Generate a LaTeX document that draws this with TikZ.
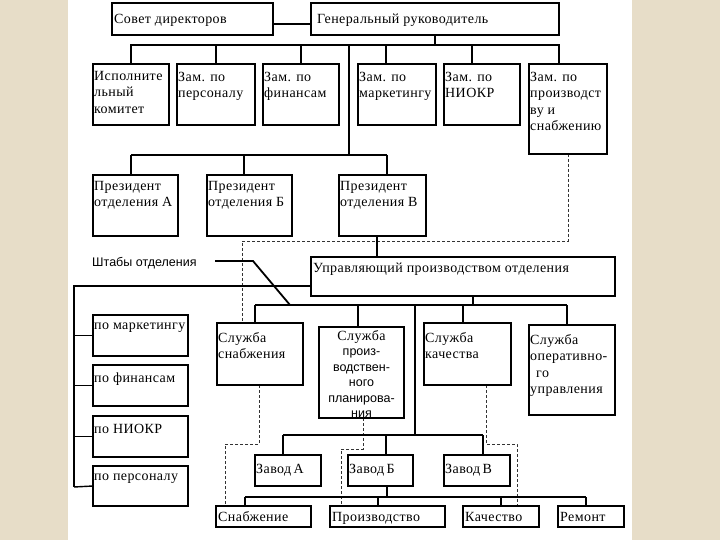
\documentclass[tikz,border=0pt]{standalone}
\usepackage{fontspec}
\setmainfont{Liberation Serif}[LetterSpace=3]
\setsansfont{Liberation Sans}
\usetikzlibrary{calc}
\definecolor{beige}{RGB}{231,221,200}
\tikzset{
  bx/.style={draw, line width=1.6pt, fill=white, anchor=north west, inner sep=0pt, outer sep=0pt},
  tl/.style={anchor=north west, inner sep=0pt, align=left, font=\fontsize{14}{16.5}\selectfont},
  bl/.style={anchor=base west, inner sep=0pt, font=\fontsize{14}{16.5}\selectfont},
  conn/.style={line width=1.4pt},
  dsh/.style={line width=1pt, draw=black!80, dash pattern=on 3pt off 2pt},
}
\newcommand\obox[5]{\node[bx, minimum width={(#4)-(#2)}, minimum height={(#5)-(#3)}] (#1) at (#2,#3) {};}
\begin{document}
\begin{tikzpicture}[x=1pt,y=-1pt]
\useasboundingbox (0,0) rectangle (720,540);
\fill[beige] (0,0) rectangle (720,540);
\fill[white] (68,0) rectangle (632,540);

% bus coordinates
\coordinate (b1l) at (131,45);
\coordinate (b1r) at (559,45);
\coordinate (j1) at (349,45);
\coordinate (j2) at (349,155);
\coordinate (b2l) at (131,155);
\coordinate (b2r) at (387,155);
\coordinate (st1) at (74,286);
\coordinate (st2) at (74,487);
\coordinate (b3l) at (255,305);
\coordinate (b3r) at (567,305);
\coordinate (j3) at (415,305);
\coordinate (j4) at (415,435);
\coordinate (b4l) at (283,435);
\coordinate (b4r) at (483,435);
\coordinate (b5l) at (245,497);
\coordinate (b5r) at (586,497);
\coordinate (d1a) at (568,241);
\coordinate (d1b) at (242,241);
\coordinate (d2a) at (259,444);
\coordinate (d2b) at (225,444);
\coordinate (d3a) at (363,449);
\coordinate (d3b) at (341,449);
\coordinate (d4a) at (486,444);
\coordinate (d4b) at (517,444);
\coordinate (ld1) at (215,261);
\coordinate (ld2) at (253,261);
\coordinate (ld3) at (290,305);

% boxes
\obox{sd}{112}{3}{273}{35}
\obox{gr}{311}{3}{559}{35}
\obox{ik}{93}{64}{169}{125}
\obox{zp}{177}{64}{255}{125}
\obox{zf}{263}{64}{339}{125}
\obox{zm}{358}{64}{436}{125}
\obox{zn}{444}{64}{520}{125}
\obox{zs}{529}{64}{607}{154}
\obox{pa}{93}{175}{178}{236}
\obox{pb}{207}{175}{292}{236}
\obox{pv}{339}{175}{426}{236}
\obox{up}{311}{257}{615}{296}
\obox{ss}{217}{323}{303}{385}
\obox{spp}{319}{327}{404}{418}
\obox{sk}{424}{323}{511}{385}
\obox{so}{529}{325}{615}{415}
\obox{lm}{93}{315}{188}{356}
\obox{lf}{93}{365}{188}{406}
\obox{ln}{93}{416}{188}{457}
\obox{lp}{93}{466}{188}{506}
\obox{wa}{255}{455}{321}{486}
\obox{wb}{348}{455}{413}{486}
\obox{wv}{444}{455}{510}{486}
\obox{bs}{216}{506}{311}{527}
\obox{bp}{330}{506}{445}{527}
\obox{bk}{463}{506}{539}{527}
\obox{br}{558}{506}{624}{527}

% dashed functional links
\draw[dsh] (568,0 |- zs.south) -- (d1a) -- (d1b) -- (242,0 |- ss.north);
\draw[dsh] (259,0 |- ss.south) -- (d2a) -- (d2b) -- (225,0 |- bs.north);
\draw[dsh] (363,0 |- spp.south) -- (d3a) -- (d3b) -- (341,0 |- bp.north);
\draw[dsh] (486,0 |- sk.south) -- (d4a) -- (d4b) -- (517,0 |- bk.north);

% solid connectors
\draw[conn] (sd.east |- 0,24) -- (gr.west |- 0,24);
\draw[conn] (gr.south) -- (gr.south |- b1l);
\draw[conn] (ik.north) -- (b1l) -- (b1r) -- (b1r |- zs.north);
\draw[conn] (zp.north) -- (zp.north |- b1l);
\draw[conn] (zf.north) -- (zf.north |- b1l);
\draw[conn] (386,45) -- (386,0 |- zm.north);
\draw[conn] (472,45) -- (472,0 |- zn.north);
\draw[conn] (j1) -- (j2);
\draw[conn] (b2l) -- (b2r);
\draw[conn] (b2l) -- (131,0 |- pa.north);
\draw[conn] (244,155) -- (244,0 |- pb.north);
\draw[conn] (b2r) -- (387,0 |- pv.north);
\draw[conn] (377,0 |- pv.south) -- (377,0 |- up.north);
\draw[conn] (up.west |- st1) -- (st1) -- (st2);
\draw[conn] (74,0 |- lm.west) -- (lm.west);
\draw[conn] (74,0 |- lf.west) -- (lf.west);
\draw[conn] (74,0 |- ln.west) -- (ln.west);
\draw[conn] (st2) -- (lp.west);
\draw[conn] (473,0 |- up.south) -- (473,305);
\draw[conn] (b3l) -- (b3r);
\draw[conn] (b3l) -- (255,0 |- ss.north);
\draw[conn] (358,305) -- (358,0 |- spp.north);
\draw[conn] (463,305) -- (463,0 |- sk.north);
\draw[conn] (b3r) -- (567,0 |- so.north);
\draw[conn] (j3) -- (j4);
\draw[conn] (b4l) -- (b4r);
\draw[conn] (b4l) -- (283,0 |- wa.north);
\draw[conn] (386,435) -- (386,0 |- wb.north);
\draw[conn] (b4r) -- (483,0 |- wv.north);
\draw[conn] (387,0 |- wb.south) -- (387,497);
\draw[conn] (b5l) -- (b5r);
\draw[conn] (b5l) -- (245,0 |- bs.north);
\draw[conn] (378,497) -- (378,0 |- bp.north);
\draw[conn] (501,497) -- (501,0 |- bk.north);
\draw[conn] (b5r) -- (586,0 |- br.north);
\draw[line width=1.8pt] (ld1) -- (ld2) -- (ld3);

% redraw boxes on top of lines
\foreach \n in {sd,gr,ik,zp,zf,zm,zn,zs,pa,pb,pv,up,ss,spp,sk,so,lm,lf,ln,lp,wa,wb,wv,bs,bp,bk,br}
  \draw[line width=1.6pt, fill=white] (\n.north west) rectangle (\n.south east);

% texts
\node[bl] (sd-t) at ([shift={(2,21)}]sd.north west) {Совет директоров};
\node[bl] (gr-t) at ([shift={(6,21)}]gr.north west) {Генеральный руководитель};
\node[tl] (ik-t) at ([shift={(1,7)}]ik.north west) {Исполните\\льный\\комитет};
\node[tl] (zp-t) at ([shift={(1,8)}]zp.north west) {Зам. по\\персоналу};
\node[tl] (zf-t) at ([shift={(1,8)}]zf.north west) {Зам. по\\финансам};
\node[tl] (zm-t) at ([shift={(1,8)}]zm.north west) {Зам. по\\маркетингу};
\node[tl] (zn-t) at ([shift={(1,8)}]zn.north west) {Зам. по\\НИОКР};
\node[tl] (zs-t) at ([shift={(1,8)}]zs.north west) {Зам. по\\производст\\ву и\\снабжению};
\node[tl] (pa-t) at ([shift={(1,6)}]pa.north west) {Президент\\отделения А};
\node[tl] (pb-t) at ([shift={(1,6)}]pb.north west) {Президент\\отделения Б};
\node[tl] (pv-t) at ([shift={(1,6)}]pv.north west) {Президент\\отделения В};
\node[tl] (up-t) at ([shift={(2,6)}]up.north west) {Управляющий производством отделения};
\node[tl] (ss-t) at ([shift={(1,9)}]ss.north west) {Служба\\снабжения};
\node[anchor=north, inner sep=0pt, align=center, font=\fontsize{12.5}{15.5}\selectfont] (spp-t) at ([shift={(0,3)}]spp.north) {\rmfamily\fontsize{14}{15.5}\selectfont Служба\\\sffamily произ-\\\sffamily водствен-\\\sffamily ного\\\sffamily планирова-\\\sffamily ния};
\node[tl] (sk-t) at ([shift={(1,9)}]sk.north west) {Служба\\качества};
\node[tl] (so-t) at ([shift={(1,9)}]so.north west) {Служба\\оперативно-\\\hspace*{6pt}го\\управления};
\node[tl] (lm-t) at ([shift={(1,8)}]lm.north west) {по маркетингу};
\node[tl] (lf-t) at ([shift={(1,8)}]lf.north west) {по финансам};
\node[tl] (ln-t) at ([shift={(1,8)}]ln.north west) {по НИОКР};
\node[tl] (lp-t) at ([shift={(1,8)}]lp.north west) {по персоналу};
\node[bl] (wa-t) at ([shift={(1,18)}]wa.north west) {Завод\,А};
\node[bl] (wb-t) at ([shift={(1,18)}]wb.north west) {Завод\,Б};
\node[bl] (wv-t) at ([shift={(1,18)}]wv.north west) {Завод\,В};
\node[bl] (bs-t) at ([shift={(2,15.5)}]bs.north west) {Снабжение};
\node[bl] (bp-t) at ([shift={(2,15.5)}]bp.north west) {Производство};
\node[bl] (bk-t) at ([shift={(2,15.5)}]bk.north west) {Качество};
\node[bl] (br-t) at ([shift={(2,15.5)}]br.north west) {Ремонт};
\node[anchor=west, inner sep=0pt, font=\sffamily\fontsize{12.5}{15}\selectfont] (sht) at (92,263) {Штабы отделения};
\end{tikzpicture}
\end{document}
